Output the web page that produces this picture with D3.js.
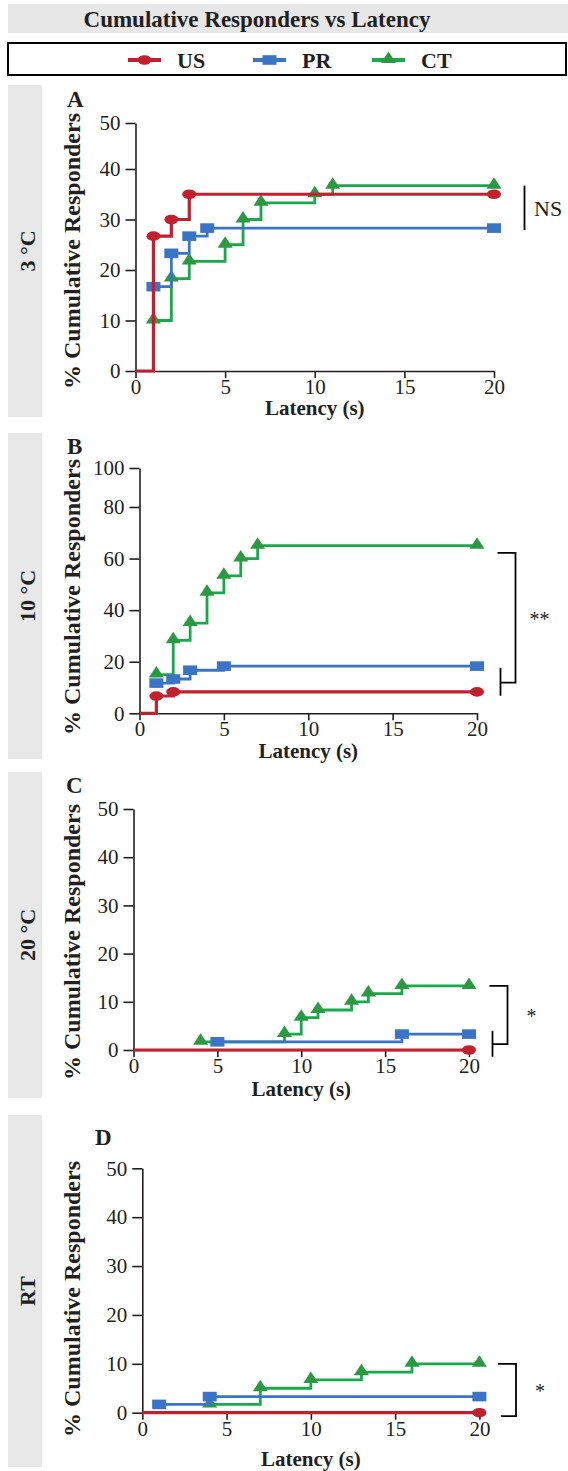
<!DOCTYPE html>
<html>
<head>
<meta charset="utf-8">
<script src="https://cdn.jsdelivr.net/npm/d3@7"></script>
<style>
  body { margin: 0; background: #fff; }
  svg text { font-family: "Liberation Serif", "Times New Roman", serif; fill: #231f20; }
  .axis path, .axis line { stroke: #231f20; stroke-width: 1.6; }
  .axis text { font-size: 21px; }
</style>
</head>
<body>
<script>
// ---- data ----
const groups = ['US', 'PR', 'CT']
const panelLetters = ['A', 'B', 'C', 'D']
const conditions = ['3 °C', '10 °C', '20 °C', 'RT']
const xTicks = [0, 5, 10, 15, 20]
const yTicks = [
    [0, 10, 20, 30, 40, 50],
    [0, 20, 40, 60, 80, 100],
    [0, 10, 20, 30, 40, 50],
    [0, 10, 20, 30, 40, 50]
]

// latency (s) and % cumulative responders, one array per panel
const usTimes = [[0, 1, 2, 3, 20], [0, 1, 2, 20], [0, 20], [0, 20]]
const usValues = [[0, 26.7, 30, 35, 35], [0, 6.7, 8.3, 8.3], [0, 0], [0, 0]]
const prTimes = [[1, 2, 3, 4, 20], [1, 2, 3, 5, 20], [5, 16, 20], [1, 4, 20]]
const prValues = [[16.7, 23.3, 26.7, 28.3, 28.3], [11.7, 13.3, 16.7, 18.3, 18.3], [1.7, 3.3, 3.3], [1.7, 3.3, 3.3]]
const ctTimes = [[1, 2, 3, 5, 6, 7, 10, 11, 20], [1, 2, 3, 4, 5, 6, 7, 20], [4, 9, 10, 11, 13, 14, 16, 20], [4, 7, 10, 13, 16, 20]]
const ctValues = [
    [10, 18.3, 21.7, 25, 30, 33.3, 35, 36.7, 36.7],
    [15, 28.3, 35, 46.7, 53.3, 60, 65, 65],
    [1.7, 3.3, 6.7, 8.3, 10, 11.7, 13.3, 13.3],
    [1.7, 5, 6.7, 8.3, 10, 10]
]

// significance annotations (in % units)
const sigLabels = ['NS', '**', '*', '*']
const sigTop = [36.7, 62.2, 13.3, 10]
const sigBottom = [27.9, 11.9, 1.2, -0.7]
const sigBar = [null, [17.6, 6.8], [4, -1.4], null]

// ---- layout ----
const colors = { US: '#c3202f', PR: '#3b74c6', CT: '#1ba84c' }
const markerColors = { US: '#c3202f', PR: '#3b74c6', CT: '#2a9941' }

// plot frames for each panel (pixel positions)
const frames = [
    { x0: 135.5, x1: 494, yDom: [0, 40, 50], yRange: [371, 169, 123], strip: [85, 417], letter: [67, 107], title: 415, yTitle: 251 },
    { x0: 139.5, x1: 477, yDom: [0, 80, 100], yRange: [713.3, 507, 468], strip: [433, 759], letter: [67, 454], title: 758, yTitle: 597 },
    { x0: 133.5, x1: 469, yDom: [0, 50], yRange: [1050, 809], strip: [772, 1098], letter: [66, 793], title: 1096, yTitle: 942 },
    { x0: 142.3, x1: 479.4, yDom: [0, 50], yRange: [1412.7, 1168.3], strip: [1115, 1467], letter: [95, 1145], title: 1466, yTitle: 1299 }
]

const svg = d3.select('body').append('svg')
    .attr('width', 568)
    .attr('height', 1471)

// header band
svg.append('rect')
    .attr('x', 8).attr('y', 4).attr('width', 560).attr('height', 29)
    .attr('fill', '#e6e7e6')
svg.append('text')
    .attr('x', 257).attr('y', 27)
    .attr('text-anchor', 'middle')
    .attr('font-size', 23).attr('font-weight', 'bold')
    .text('Cumulative Responders vs Latency')

// legend box
svg.append('rect')
    .attr('x', 8).attr('y', 43).attr('width', 558).attr('height', 32)
    .attr('fill', 'none').attr('stroke', '#000').attr('stroke-width', 2)

const legendX = [128, 253, 372]
groups.forEach((g, i) => {
    const lg = svg.append('g').attr('transform', `translate(${legendX[i]},60)`)
    lg.append('line')
        .attr('x1', 0).attr('x2', 33)
        .attr('stroke', colors[g]).attr('stroke-width', 4)
    drawMarker(lg, g, 16.5, 0, 1)
    lg.append('text')
        .attr('x', 49).attr('y', 8)
        .attr('font-size', 22).attr('font-weight', 'bold')
        .text(g)
})

function drawMarker(sel, g, cx, cy, k) {
    if (g === 'US') {
        sel.append('ellipse')
            .attr('cx', cx).attr('cy', cy)
            .attr('rx', 7 * k).attr('ry', 4.8 * k)
            .attr('fill', markerColors[g])
    } else if (g === 'PR') {
        sel.append('rect')
            .attr('x', cx - 7 * k).attr('y', cy - 4.8 * k)
            .attr('width', 14 * k).attr('height', 9.6 * k)
            .attr('fill', markerColors[g])
    } else {
        sel.append('path')
            .attr('d', `M${cx - 7.5 * k},${cy + 3 * k}L${cx},${cy - 8.5 * k}L${cx + 7.5 * k},${cy + 3 * k}Z`)
            .attr('fill', markerColors[g])
    }
}

frames.forEach((f, i) => {
    const x = d3.scaleLinear().domain([0, 20]).range([f.x0, f.x1])
    const y = d3.scaleLinear().domain(f.yDom).range(f.yRange)
    const g = svg.append('g')

    // condition strip
    g.append('rect')
        .attr('x', 8).attr('y', f.strip[0])
        .attr('width', 34).attr('height', f.strip[1] - f.strip[0])
        .attr('fill', '#e7e8e7')
    g.append('text')
        .attr('transform', `translate(27,${(f.strip[0] + f.strip[1]) / 2}) rotate(-90)`)
        .attr('text-anchor', 'middle').attr('dy', '0.35em')
        .attr('font-size', 22).attr('font-weight', 'bold')
        .text(conditions[i])

    // panel letter
    g.append('text')
        .attr('x', f.letter[0]).attr('y', f.letter[1])
        .attr('font-size', 23).attr('font-weight', 'bold')
        .text(panelLetters[i])

    // axes
    g.append('g')
        .attr('class', 'axis')
        .attr('transform', `translate(0,${y(0)})`)
        .call(d3.axisBottom(x).tickValues(xTicks).tickSize(7).tickPadding(1).tickSizeOuter(0))
    g.append('g')
        .attr('class', 'axis')
        .attr('transform', `translate(${x(0)},0)`)
        .call(d3.axisLeft(y).tickValues(yTicks[i]).tickSize(10).tickPadding(5).tickSizeOuter(0))

    // axis titles
    g.append('text')
        .attr('x', (f.x0 + f.x1) / 2).attr('y', f.title)
        .attr('text-anchor', 'middle')
        .attr('font-size', 21).attr('font-weight', 'bold')
        .text('Latency (s)')
    g.append('text')
        .attr('transform', `translate(72,${f.yTitle}) rotate(-90)`)
        .attr('text-anchor', 'middle').attr('dy', '0.35em')
        .attr('font-size', 24).attr('font-weight', 'bold')
        .text('% Cumulative Responders')

    // step curves
    const line = d3.line()
        .x(d => x(d[0]))
        .y(d => y(d[1]))
        .curve(d3.curveStepAfter)

    const series = [
        { key: 'CT', pts: d3.zip(ctTimes[i], ctValues[i]) },
        { key: 'PR', pts: d3.zip(prTimes[i], prValues[i]) },
        { key: 'US', pts: d3.zip(usTimes[i], usValues[i]) }
    ]

    series.forEach(s => {
        g.append('path')
            .attr('d', line(s.pts))
            .attr('fill', 'none')
            .attr('stroke', colors[s.key])
            .attr('stroke-width', s.key === 'US' ? 3.2 : 2.8)
        const mg = g.append('g')
        s.pts.filter(d => d[0] > 0).forEach(d => drawMarker(mg, s.key, x(d[0]), y(d[1]), 1))
    })

    // significance bracket
    const bx = x(20)
    const sg = g.append('g').attr('fill', 'none').attr('stroke', '#000').attr('stroke-width', 1.8)
    if (i === 0) {
        sg.append('line')
            .attr('x1', bx + 30.5).attr('x2', bx + 30.5)
            .attr('y1', y(sigTop[i])).attr('y2', y(sigBottom[i]))
        g.append('text')
            .attr('x', bx + 40).attr('y', (y(sigTop[i]) + y(sigBottom[i])) / 2)
            .attr('dy', '0.35em').attr('font-size', 22)
            .text(sigLabels[i])
    } else {
        const left = i === 3 ? 18.6 : 20.5
        const right = left + 18
        const back = left + 3
        sg.append('path')
            .attr('d', `M${bx + left},${y(sigTop[i])}H${bx + right}V${y(sigBottom[i])}H${bx + back}`)
        if (sigBar[i]) {
            sg.append('line')
                .attr('x1', bx + back).attr('x2', bx + back)
                .attr('y1', y(sigBar[i][0])).attr('y2', y(sigBar[i][1]))
        }
        g.append('text')
            .attr('x', bx + right + 24).attr('y', (y(sigTop[i]) + y(sigBottom[i])) / 2 + 8)
            .attr('text-anchor', 'middle')
            .attr('font-size', 20)
            .text(sigLabels[i])
    }
})
</script>
</body>
</html>
